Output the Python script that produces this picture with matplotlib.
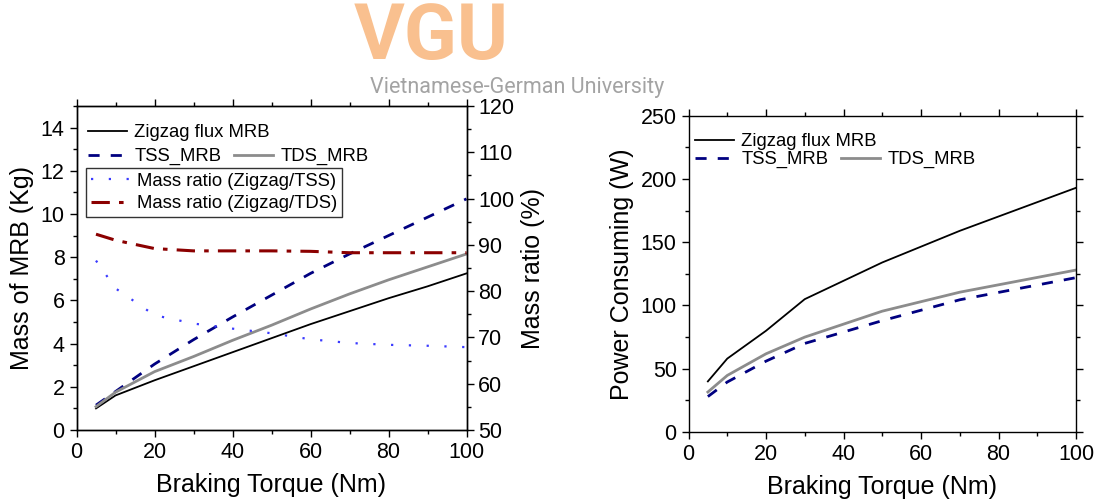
import matplotlib
matplotlib.use('Agg')
import matplotlib.pyplot as plt
from matplotlib.ticker import MultipleLocator

plt.rcParams['font.family'] = ['Liberation Sans', 'DejaVu Sans']

# mass vs braking torque
torque = [5, 10, 20, 30, 40, 50, 60, 70, 80, 90, 100]
mass_zigzag = [1.0, 1.6, 2.3, 2.95, 3.6, 4.25, 4.9, 5.5, 6.1, 6.65, 7.25]
mass_tss = [1.15, 1.78, 3.05, 4.18, 5.23, 6.24, 7.25, 8.15, 9.0, 9.85, 10.7]
mass_tds = [1.08, 1.75, 2.7, 3.4, 4.15, 4.85, 5.6, 6.3, 6.95, 7.55, 8.15]
ratio_tss = [86.6, 80.6, 74.8, 73.0, 71.9, 70.9, 69.6, 68.8, 68.4, 68.2, 67.9]
ratio_tds = [92.3, 91.0, 89.2, 88.7, 88.7, 88.7, 88.6, 88.3, 88.3, 88.3, 88.3]

# power vs braking torque
torque_p = [5, 10, 20, 30, 50, 70, 100]
power_zigzag = [40, 58, 80, 105, 134, 159, 193]
power_tss = [28, 39.5, 56, 70, 88, 104.5, 122]
power_tds = [31.6, 44.7, 61.8, 75, 95.5, 110.5, 128]

W, H = 1097, 503
fig = plt.figure(figsize=(W / 100, H / 100), dpi=100)


def rect(x0, x1, ytop, ybot):
    return [x0 / W, 1 - ybot / H, (x1 - x0) / W, (ybot - ytop) / H]


def fpos(x, y):
    return (x / W, 1 - y / H)


C_TSS = '#000080'
C_TDS = '#8c8c8c'
C_DOT = '#3a3aff'
C_RED = '#8b0000'
LAB = 18


def style(ax):
    ax.tick_params(which='major', length=5, width=1, direction='out',
                   labelsize=15.5, pad=3.5)
    ax.tick_params(which='minor', length=3, width=1, direction='out')
    for s in ax.spines.values():
        s.set_linewidth(1)


# ---------- left: mass ----------
ax = fig.add_axes(rect(76.5, 466.5, 106, 430))
ax.plot(torque, mass_zigzag, color='black', lw=1.3, label='Zigzag flux MRB')
ax.plot(torque, mass_tss, color=C_TSS, lw=2, dashes=(4, 4), label='TSS_MRB')
ax.plot(torque, mass_tds, color=C_TDS, lw=2, label='TDS_MRB')
ax.set_xlim(0, 100)
ax.set_ylim(0, 15)
ax.xaxis.set_major_locator(MultipleLocator(20))
ax.xaxis.set_minor_locator(MultipleLocator(10))
ax.yaxis.set_major_locator(MultipleLocator(2))
ax.yaxis.set_minor_locator(MultipleLocator(1))
ax.tick_params(which='both', top=True)
style(ax)
ax.set_xlabel('Braking Torque (Nm)', fontsize=LAB, labelpad=7)
ax.set_ylabel('Mass of MRB (Kg)', fontsize=LAB, labelpad=5)

ax2 = ax.twinx()
ax2.plot(torque, ratio_tss, color=C_DOT, lw=1.6, dashes=(1, 7),
         label='Mass ratio (Zigzag/TSS)')
ax2.plot(torque, ratio_tds, color=C_RED, lw=2.2, dashes=(6, 3, 1.5, 3),
         label='Mass ratio (Zigzag/TDS)')
ax2.set_ylim(50, 120)
ax2.yaxis.set_major_locator(MultipleLocator(10))
ax2.yaxis.set_minor_locator(MultipleLocator(5))
style(ax2)
ax2.set_ylabel('Mass ratio (%)', fontsize=LAB, labelpad=5)

h = {l.get_label(): l for l in ax.get_lines() + ax2.get_lines()}
leg_kw = dict(fontsize=13.3, handlelength=2.1, handletextpad=0.4,
              borderpad=0, borderaxespad=0, loc='upper left',
              bbox_transform=fig.transFigure)

lg1 = ax2.legend([h['Zigzag flux MRB']], ['Zigzag flux MRB'], frameon=False,
                 bbox_to_anchor=fpos(88, 124), **leg_kw)
ax2.add_artist(lg1)
lg2 = ax2.legend([h['TSS_MRB'], h['TDS_MRB']], ['TSS_MRB', 'TDS_MRB'], ncol=2,
                 columnspacing=0.7, frameon=False,
                 bbox_to_anchor=fpos(88, 148), **leg_kw)
ax2.add_artist(lg2)
kw3 = dict(leg_kw)
kw3['borderpad'] = 0.25
lg3 = ax2.legend([h['Mass ratio (Zigzag/TSS)'], h['Mass ratio (Zigzag/TDS)']],
                 ['Mass ratio (Zigzag/TSS)', 'Mass ratio (Zigzag/TDS)'],
                 frameon=True, fancybox=False, labelspacing=0.3,
                 bbox_to_anchor=fpos(86, 168), **kw3)
lg3.get_frame().set_edgecolor('black')
lg3.get_frame().set_linewidth(1)

# ---------- right: power ----------
bx = fig.add_axes(rect(688.5, 1076, 115.7, 432))
bx.plot(torque_p, power_zigzag, color='black', lw=1.3, label='Zigzag flux MRB')
bx.plot(torque_p, power_tss, color=C_TSS, lw=2, dashes=(4, 4), label='TSS_MRB')
bx.plot(torque_p, power_tds, color=C_TDS, lw=2, label='TDS_MRB')
bx.set_xlim(0, 100)
bx.set_ylim(0, 250)
bx.xaxis.set_major_locator(MultipleLocator(20))
bx.xaxis.set_minor_locator(MultipleLocator(10))
bx.yaxis.set_major_locator(MultipleLocator(50))
bx.yaxis.set_minor_locator(MultipleLocator(25))
bx.tick_params(which='both', top=True, right=True)
style(bx)
bx.set_xlabel('Braking Torque (Nm)', fontsize=LAB, labelpad=7)
bx.set_ylabel('Power Consuming (W)', fontsize=LAB, labelpad=5)

hb = {l.get_label(): l for l in bx.get_lines()}
lg4 = bx.legend([hb['Zigzag flux MRB']], ['Zigzag flux MRB'], frameon=False,
                bbox_to_anchor=fpos(695, 133), **leg_kw)
bx.add_artist(lg4)
bx.legend([hb['TSS_MRB'], hb['TDS_MRB']], ['TSS_MRB', 'TDS_MRB'], ncol=2,
          columnspacing=0.7, frameon=False,
          bbox_to_anchor=fpos(695, 151), **leg_kw)

# ---------- watermark ----------
fig.text(431 / W, 1 - 38 / H, 'VGU', family='Roboto', weight='bold',
         fontsize=56, color='#f9c08f', ha='center', va='center')
fig.text(517 / W, 1 - 88 / H, 'Vietnamese-German University', family='Roboto',
         fontsize=15.5, color='#a3a3a3', ha='center', va='center')

fig.savefig('out.png', dpi=100)
